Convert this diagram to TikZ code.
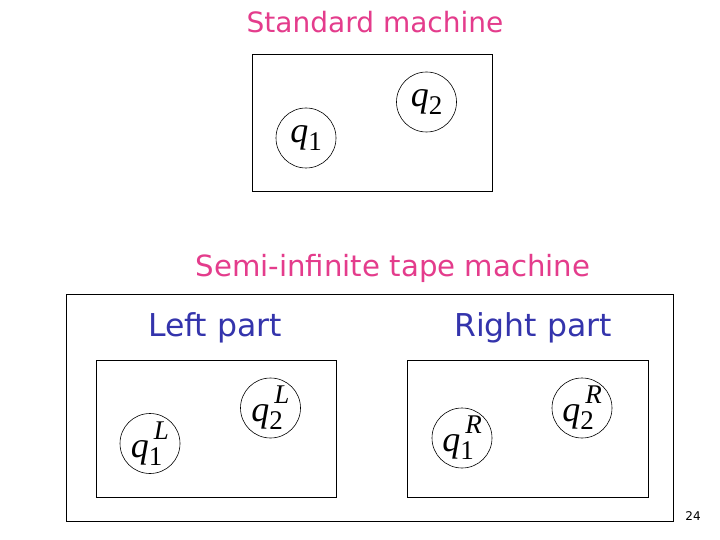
\documentclass[tikz,border=0pt]{standalone}
\usepackage{fontspec}
\setsansfont{DejaVu Sans}
\newfontfamily\qfont{Liberation Serif}
\newcommand{\qsub}[1]{{\itshape q}{\fontsize{27}{27}\selectfont\raisebox{-8pt}{#1}}}
\newcommand{\qboth}[2]{{\itshape q}{\fontsize{27}{27}\selectfont\rlap{\raisebox{-8pt}{#1}}\hspace{5pt}\raisebox{18pt}{\itshape #2}}}
\definecolor{titlepink}{RGB}{228,60,140}
\definecolor{partblue}{RGB}{52,52,172}
\begin{document}
\begin{tikzpicture}[x=1pt,y=-1pt,
  frame/.style={draw=black,line width=0.9pt},
  state/.style={circle,draw=black,line width=0.6pt,minimum size=60pt,inner sep=0pt,
    font=\qfont\fontsize{36}{36}\selectfont},
  title/.style={text=titlepink,font=\sffamily\fontsize{28}{28}\selectfont},
  part/.style={text=partblue,font=\sffamily\fontsize{31.5}{31.5}\selectfont}]
\fill[white] (0,0) rectangle (720,540);
\useasboundingbox (0,0) rectangle (720,540);
% standard machine
\node[title] (t1) at (375,22) {Standard machine};
\draw[frame] (252,54) rectangle (492,191);
\node[state] (q1) at (306,138) {\qsub{1}};
\node[state] (q2) at (426.5,102) {\qsub{2}};
% semi-infinite
\node[title,font=\sffamily\fontsize{29.2}{29.2}\selectfont] (t2) at (393,268) {Semi-infinite tape machine};
\draw[frame] (66,294) rectangle (673,521);
\node[part] (lp) at (215,328) {Left part};
\node[part] (rp) at (533,328) {Right part};
\draw[frame] (96,360) rectangle (336,497);
\draw[frame] (407,360) rectangle (648,497);
\node[state] (q1L) at (150,443.5) {\qboth{1}{L}};
\node[state] (q2L) at (270.5,408) {\qboth{2}{L}};
\node[state] (q1R) at (462,438) {\qboth{1}{R}};
\node[state] (q2R) at (582,408) {\qboth{2}{R}};
\node[font=\sffamily\fontsize{12}{12}\selectfont] (pg) at (693,516) {24};
\end{tikzpicture}
\end{document}
